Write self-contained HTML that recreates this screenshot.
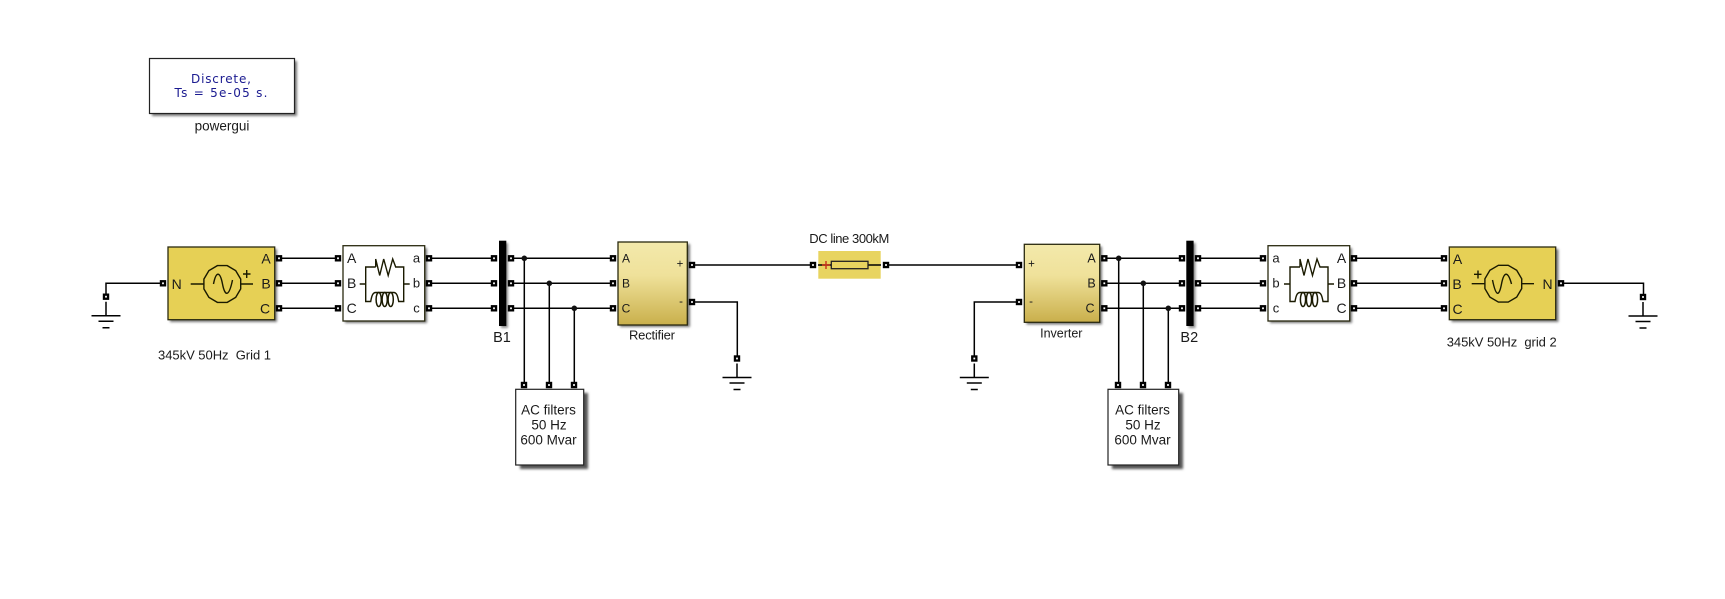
<!DOCTYPE html>
<html><head><meta charset="utf-8"><title>HVDC Simulink model</title>
<style>
html,body{margin:0;padding:0;background:#fff;width:1725px;height:599px;overflow:hidden}
svg{display:block;font-family:"Liberation Sans",Arial,sans-serif;filter:blur(.3px)}
text{fill:#1a1a1a}
.w{fill:none;stroke:#000;stroke-width:1.5}
.b{stroke:#2a2a10;stroke-width:1.3}
.i{fill:none;stroke:#1a1a00;stroke-width:1.4}
.m{text-anchor:middle;dominant-baseline:central}
</style></head><body>
<svg width="1725" height="599" viewBox="0 0 1725 599" xmlns="http://www.w3.org/2000/svg">
<defs>
<filter id="s" x="-20%" y="-20%" width="150%" height="150%"><feGaussianBlur stdDeviation="1.3"/></filter>
<filter id="s2" x="-20%" y="-20%" width="150%" height="150%"><feGaussianBlur stdDeviation="1.2"/></filter>
<linearGradient id="g" x1="0" y1="0" x2="0" y2="1"><stop offset="0" stop-color="#f3e9ab"/><stop offset=".4" stop-color="#efe19a"/><stop offset="1" stop-color="#c9af4b"/></linearGradient>
<g id="p"><rect x="-3.200" y="-3.200" width="6.400" height="6.400" fill="#000"/><rect x="-.9" y="-.9" width="1.800" height="1.800" fill="#fff"/></g>
<g id="gnd"><path class="w" d="M0 5V19M-14.500 19H14.500M-7.500 24.500H7.500M-3.500 31H3.500"/><use href="#p"/></g>
<path id="oct" class="i" d="M18.400 4.900L13.400 13.400L4.900 18.400H-4.900L-13.400 13.400L-18.400 4.900V-4.900L-13.400 -13.400L-4.900 -18.400H4.900L13.400 -13.400L18.400 -4.900Z"/>
<g id="xf"><path class="i" d="M-25 0H-19M19 0H25M-9 -17H-19V17.500H-14C-13 12 -12 8.500 -9 8.500H9C12 8.500 13 12 14 17.500H19V-17H11L8 -25L3.500 -8.500L-1 -25L-5 -8.500L-9 -25V-17"/>
<g fill="none" stroke="#1a1a00" stroke-width="1.500"><ellipse cx="-6" cy="15.500" rx="2.600" ry="7"/><ellipse cx="0" cy="15.500" rx="2.600" ry="7"/><ellipse cx="6" cy="15.500" rx="2.600" ry="7"/></g></g>
</defs>

<!-- powergui -->
<rect x="152" y="61" width="145" height="55" fill="#777" filter="url(#s)"/>
<rect x="149.500" y="58.500" width="145" height="55" fill="#fff" stroke="#222" stroke-width="1.2"/>
<text class="m" x="221" y="79" font-family="'DejaVu Sans',sans-serif" font-size="12" style="fill:#1a1a90" textLength="60">Discrete,</text>
<text class="m" x="221" y="93" font-family="'DejaVu Sans',sans-serif" font-size="12" style="fill:#1a1a90" textLength="93">Ts = 5e-05 s.</text>
<text class="m" x="222" y="126" font-size="13.500">powergui</text>

<!-- wires -->
<g class="w">
<path d="M163 283.300H106V297"/>
<path d="M279 258.300H338M279 283.300H338M279 308.300H338"/>
<path d="M429 258.300H494M429 283.300H494M429 308.300H494"/>
<path d="M511 258.300H613M511 283.300H613M511 308.300H613"/>
<path d="M524.300 258.300V385M549.300 283.300V385M574.300 308.300V385"/>
<path d="M692 265H813M692 302H737.300V360"/>
<path d="M886 265H1019M1019 302H974.300V360"/>
<path d="M1104 258.300H1182M1104 283.300H1182M1104 308.300H1182"/>
<path d="M1118.700 258.300V385M1143.300 283.300V385M1168.300 308.300V385"/>
<path d="M1198 258.300H1263M1198 283.300H1263M1198 308.300H1263"/>
<path d="M1354 258.300H1444M1354 283.300H1444M1354 308.300H1444"/>
<path d="M1561 283.300H1643.500V297"/>
</g>
<g fill="#111">
<circle cx="524.300" cy="258.300" r="2.800"/><circle cx="549.300" cy="283.300" r="2.800"/><circle cx="574.300" cy="308.300" r="2.800"/>
<circle cx="1118.700" cy="258.300" r="2.800"/><circle cx="1143.300" cy="283.300" r="2.800"/><circle cx="1168.300" cy="308.300" r="2.800"/>
</g>

<!-- Grid 1 -->
<rect x="170" y="249" width="107" height="73" fill="#777" filter="url(#s)"/>
<rect x="168" y="247" width="106.700" height="72.700" fill="#e6d055" class="b"/>
<text class="m" x="176.700" y="284" font-size="14">N</text>
<text class="m" x="266" y="258.500" font-size="14">A</text>
<text class="m" x="266" y="283.500" font-size="14">B</text>
<text class="m" x="265" y="308.500" font-size="14">C</text>
<path class="i" d="M190.700 284H204M240.500 284H253M243 274H250.500M246.700 270V278"/>
<use href="#oct" x="222.300" y="284"/>
<path class="i" d="M213.500 284C216 271 220 271 222.500 284C225 297 229 297 232.500 280"/>
<text class="m" x="214.500" y="355" font-size="13" textLength="113">345kV 50Hz&#160;&#160;Grid 1</text>

<!-- Transformer 1 -->
<rect x="345" y="248" width="82" height="75" fill="#777" filter="url(#s)"/>
<rect x="343" y="245.700" width="81.700" height="75.300" fill="#fff" class="b"/>
<use href="#xf" x="384.700" y="284"/>
<text class="m" x="351.700" y="258" font-size="14">A</text>
<text class="m" x="351.700" y="283" font-size="14">B</text>
<text class="m" x="351.700" y="308" font-size="14">C</text>
<text class="m" x="416.500" y="258" font-size="13">a</text>
<text class="m" x="416.500" y="283" font-size="13">b</text>
<text class="m" x="416.500" y="308" font-size="13">c</text>

<!-- B1 -->
<rect x="501" y="243" width="7" height="85" fill="#888" filter="url(#s2)"/>
<rect x="499" y="240.700" width="7.300" height="85.300" fill="#000"/>
<text class="m" x="502" y="338" font-size="14.500">B1</text>

<!-- Rectifier -->
<rect x="620" y="244" width="70" height="83" fill="#777" filter="url(#s)"/>
<rect x="618" y="242" width="69.300" height="83" fill="url(#g)" class="b"/>
<text class="m" x="626" y="258.300" font-size="12">A</text>
<text class="m" x="626" y="283.300" font-size="12">B</text>
<text class="m" x="626" y="308.300" font-size="12">C</text>
<text class="m" x="680" y="264.500" font-size="11.500">+</text>
<text class="m" x="681" y="302" font-size="11.500">-</text>
<text class="m" x="652" y="335" font-size="13" textLength="46">Rectifier</text>

<!-- AC filters 1 -->
<rect x="520" y="393" width="68" height="76" fill="#555" filter="url(#s)"/>
<rect x="515.700" y="389.300" width="68" height="75.700" fill="#fff" stroke="#222" stroke-width="1.200"/>
<text class="m" x="548.500" y="410" font-size="13.500">AC filters</text>
<text class="m" x="549" y="425" font-size="13.500">50 Hz</text>
<text class="m" x="548.500" y="440" font-size="13.500">600 Mvar</text>

<!-- DC line -->
<text class="m" x="849.300" y="238.500" font-size="13" textLength="80">DC line 300kM</text>
<rect x="818.300" y="251" width="62.400" height="27.700" fill="#e8d460"/>
<path class="w" d="M818 265H831.300M868 265H881"/>
<rect x="831.300" y="261.300" width="36.700" height="7.400" fill="#e8d460" stroke="#222" stroke-width="1.300"/>
<path d="M822 265H830M826 261V269" stroke="#c8321a" stroke-width="1.400" fill="none"/>

<!-- Inverter -->
<rect x="1026.500" y="246.500" width="75.500" height="78" fill="#777" filter="url(#s)"/>
<rect x="1024.300" y="244.300" width="75.400" height="78" fill="url(#g)" class="b"/>
<text class="m" x="1031.500" y="264.500" font-size="11.500">+</text>
<text class="m" x="1031" y="302" font-size="11.500">-</text>
<text class="m" x="1091.500" y="258.300" font-size="12.500">A</text>
<text class="m" x="1091.500" y="283.300" font-size="12.500">B</text>
<text class="m" x="1090" y="308.300" font-size="12.500">C</text>
<text class="m" x="1061.300" y="333.700" font-size="12.500">Inverter</text>

<!-- AC filters 2 -->
<rect x="1112" y="393" width="71" height="76" fill="#555" filter="url(#s)"/>
<rect x="1108" y="389.300" width="70.700" height="75.700" fill="#fff" stroke="#222" stroke-width="1.200"/>
<text class="m" x="1142.500" y="410" font-size="13.500">AC filters</text>
<text class="m" x="1143" y="425" font-size="13.500">50 Hz</text>
<text class="m" x="1142.500" y="440" font-size="13.500">600 Mvar</text>

<!-- B2 -->
<rect x="1188.500" y="243" width="7" height="85" fill="#888" filter="url(#s2)"/>
<rect x="1186.300" y="240.700" width="7.300" height="85.300" fill="#000"/>
<text class="m" x="1189.300" y="338" font-size="14.500">B2</text>

<!-- Transformer 2 -->
<rect x="1270" y="248" width="82" height="75" fill="#777" filter="url(#s)"/>
<rect x="1268" y="245.700" width="81.700" height="75.300" fill="#fff" class="b"/>
<use href="#xf" x="1309" y="284"/>
<text class="m" x="1276" y="258" font-size="13">a</text>
<text class="m" x="1276" y="283" font-size="13">b</text>
<text class="m" x="1276" y="308" font-size="13">c</text>
<text class="m" x="1341.500" y="258" font-size="14">A</text>
<text class="m" x="1341.500" y="283" font-size="14">B</text>
<text class="m" x="1341.500" y="308" font-size="14">C</text>

<!-- Grid 2 -->
<rect x="1451.500" y="249" width="107" height="73" fill="#777" filter="url(#s)"/>
<rect x="1449.300" y="247" width="106.400" height="72.700" fill="#e6d055" class="b"/>
<text class="m" x="1457.500" y="259" font-size="14">A</text>
<text class="m" x="1457" y="284" font-size="14">B</text>
<text class="m" x="1457.500" y="309" font-size="14">C</text>
<text class="m" x="1547.500" y="284" font-size="14">N</text>
<path class="i" d="M1471.700 283.700H1485M1522 283.700H1534M1474 274.300H1481.500M1478 270.500V278.500"/>
<use href="#oct" x="1503.300" y="283.700"/>
<path class="i" d="M1492.500 280C1496 297 1499 297 1501.500 284C1504 271 1508 271 1511.500 284"/>
<text class="m" x="1501.700" y="342" font-size="13" textLength="110">345kV 50Hz&#160;&#160;grid 2</text>

<!-- Grounds -->
<use href="#gnd" x="106" y="296.700"/>
<use href="#gnd" x="737" y="358.500"/>
<use href="#gnd" x="974.300" y="358.500"/>
<use href="#gnd" x="1643" y="297"/>

<!-- Ports -->
<use href="#p" x="163" y="283.300"/>
<use href="#p" x="279" y="258.300"/><use href="#p" x="279" y="283.300"/><use href="#p" x="279" y="308.300"/>
<use href="#p" x="338" y="258.300"/><use href="#p" x="338" y="283.300"/><use href="#p" x="338" y="308.300"/>
<use href="#p" x="429" y="258.300"/><use href="#p" x="429" y="283.300"/><use href="#p" x="429" y="308.300"/>
<use href="#p" x="494" y="258.300"/><use href="#p" x="494" y="283.300"/><use href="#p" x="494" y="308.300"/>
<use href="#p" x="511" y="258.300"/><use href="#p" x="511" y="283.300"/><use href="#p" x="511" y="308.300"/>
<use href="#p" x="613" y="258.300"/><use href="#p" x="613" y="283.300"/><use href="#p" x="613" y="308.300"/>
<use href="#p" x="524" y="385"/><use href="#p" x="549" y="385"/><use href="#p" x="574" y="385"/>
<use href="#p" x="692" y="265"/><use href="#p" x="692" y="302"/>
<use href="#p" x="813" y="265"/><use href="#p" x="886" y="265"/>
<use href="#p" x="1019" y="265"/><use href="#p" x="1019" y="302"/>
<use href="#p" x="1104.300" y="258.300"/><use href="#p" x="1104.300" y="283.300"/><use href="#p" x="1104.300" y="308.300"/>
<use href="#p" x="1118" y="385"/><use href="#p" x="1143" y="385"/><use href="#p" x="1168" y="385"/>
<use href="#p" x="1182" y="258.300"/><use href="#p" x="1182" y="283.300"/><use href="#p" x="1182" y="308.300"/>
<use href="#p" x="1198" y="258.300"/><use href="#p" x="1198" y="283.300"/><use href="#p" x="1198" y="308.300"/>
<use href="#p" x="1263" y="258.300"/><use href="#p" x="1263" y="283.300"/><use href="#p" x="1263" y="308.300"/>
<use href="#p" x="1354" y="258.300"/><use href="#p" x="1354" y="283.300"/><use href="#p" x="1354" y="308.300"/>
<use href="#p" x="1444" y="258.300"/><use href="#p" x="1444" y="283.300"/><use href="#p" x="1444" y="308.300"/>
<use href="#p" x="1561" y="283.300"/>
</svg>
</body></html>
